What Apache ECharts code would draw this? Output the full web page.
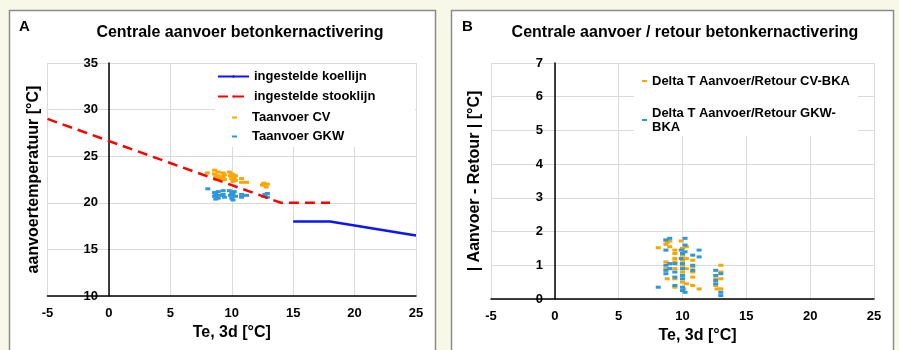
<!DOCTYPE html>
<html>
<head>
<meta charset="utf-8">
<script src="https://cdn.jsdelivr.net/npm/echarts@6/dist/echarts.min.js"></script>
<style>
  html, body { margin: 0; padding: 0; background: #f8f8e8; }
  #chart { width: 899px; height: 350px; }
</style>
</head>
<body>
<div id="chart"></div>
<script>
// ingestelde lijnen (Te, temperatuur)
const stookTe = [-5, 14, 18]
const stookT = [29, 20, 20]
const koelTe = [15, 18, 25]
const koelT = [18, 18, 16.5]

// Taanvoer CV (A)
const cvTe = [8.0, 8.6, 8.6, 8.7, 8.7, 8.9, 8.9, 9.0, 9.3, 9.3, 9.4, 9.4, 9.8, 9.9, 10.0, 10.0, 10.1, 10.1, 10.2, 10.3, 10.3, 10.8, 10.8, 11.2, 12.5, 12.6, 12.8, 12.9]
const cvT = [23.2, 23.5, 23.1, 22.8, 22.5, 23.3, 22.9, 22.6, 23.2, 22.8, 23.0, 22.5, 23.3, 22.9, 23.1, 22.6, 22.3, 23.0, 22.7, 22.4, 22.9, 22.6, 22.2, 22.2, 21.9, 22.1, 21.7, 22.0]

// Taanvoer GKW (A)
const gkwTe = [8.05, 8.6, 8.6, 8.7, 8.7, 8.9, 8.9, 9.0, 9.3, 9.3, 9.4, 9.8, 9.9, 10.0, 10.0, 10.1, 10.1, 10.2, 10.3, 10.8, 10.8, 11.2, 12.6, 12.7, 12.9, 12.9]
const gkwT = [21.5, 21.1, 20.7, 20.4, 20.9, 21.2, 20.5, 20.8, 21.3, 20.9, 20.6, 21.3, 20.8, 21.1, 20.5, 20.9, 20.3, 21.2, 20.7, 20.9, 20.6, 20.8, 20.7, 20.9, 21.0, 20.6]

// Delta T CV-BKA (B)
const dCvTe = [8.1, 8.7, 8.7, 8.7, 8.7, 8.8, 8.8, 9.0, 9.0, 9.4, 9.4, 9.4, 9.4, 9.4, 9.4, 9.4, 9.9, 10.0, 10.0, 10.0, 10.0, 10.0, 10.0, 10.1, 10.3, 10.3, 10.3, 10.3, 10.8, 10.8, 10.8, 10.8, 10.8, 11.3, 12.6, 12.6, 12.7, 13.0, 13.0, 13.0, 13.0]
const dCvT = [1.52, 1.75, 1.62, 1.1, 0.9, 1.68, 0.6, 1.72, 1.55, 1.45, 1.35, 1.2, 1.1, 0.9, 0.6, 0.35, 1.72, 1.5, 1.3, 1.15, 1.0, 0.8, 0.5, 0.3, 1.55, 1.2, 0.9, 0.45, 1.15, 0.95, 0.8, 0.65, 0.4, 0.3, 0.6, 0.4, 0.3, 1.0, 0.8, 0.6, 0.3]

// Delta T GKW-BKA (B)
const dGkwTe = [8.1, 8.7, 8.7, 8.7, 8.7, 8.7, 9.0, 9.0, 9.0, 9.4, 9.4, 9.4, 9.4, 9.9, 9.9, 10.0, 10.0, 10.0, 10.0, 10.0, 10.0, 10.0, 10.2, 10.2, 10.2, 10.2, 10.8, 10.8, 10.8, 11.3, 11.3, 12.6, 12.6, 12.6, 12.6, 13.0, 13.0, 13.0]
const dGkwT = [0.35, 1.75, 1.45, 1.0, 0.85, 0.75, 1.8, 1.05, 0.9, 1.05, 0.8, 0.65, 0.4, 1.45, 1.2, 1.35, 1.05, 0.9, 0.7, 0.6, 0.35, 0.25, 1.8, 1.6, 1.4, 0.2, 1.3, 1.0, 0.85, 1.45, 1.25, 0.85, 0.7, 0.55, 0.45, 0.75, 0.2, 0.1]

const pairs = (xs, ys) => xs.map((x, i) => [x, ys[i]])

const font = 'Liberation Sans, Arial, sans-serif'
const orange = '#f9a603'
const blue = '#2e96db'
const gridColor = '#dadada'

const xAxisBase = {
  type: 'value',
  min: -5,
  max: 25,
  interval: 5,
  name: 'Te, 3d [°C]',
  nameLocation: 'middle',
  nameTextStyle: { fontFamily: font, fontWeight: 'bold', fontSize: 16, color: '#000' },
  axisLine: { onZero: false, lineStyle: { color: '#000', width: 1.5 } },
  axisTick: { show: false },
  axisLabel: { fontFamily: font, fontWeight: 'bold', fontSize: 13, color: '#000', margin: 11 },
  splitLine: { show: true, lineStyle: { color: gridColor, width: 1 } }
}

const yAxisBase = {
  type: 'value',
  nameLocation: 'middle',
  nameTextStyle: { fontFamily: font, fontWeight: 'bold', fontSize: 16, color: '#000' },
  axisLine: { show: true, onZero: true, lineStyle: { color: '#000', width: 1.5 } },
  axisTick: { show: false },
  splitLine: { show: true, lineStyle: { color: gridColor, width: 1 } }
}

const yLabel = { fontFamily: font, fontWeight: 'bold', fontSize: 13, color: '#000' }

const legendText = { fontFamily: font, fontWeight: 'bold', fontSize: 13, color: '#000' }

const chart = echarts.init(document.getElementById('chart'), null, { renderer: 'canvas' })

const option = {
  backgroundColor: '#f8f8e8',
  animation: false,
  graphic: [
    { type: 'rect', z: -10, shape: { x: 9.5, y: 10.5, width: 426, height: 345 }, style: { fill: '#fff', stroke: '#8a8a8a', lineWidth: 1.5 } },
    { type: 'rect', z: -10, shape: { x: 451.5, y: 10.5, width: 442, height: 345 }, style: { fill: '#fff', stroke: '#8a8a8a', lineWidth: 1.5 } },
    { type: 'text', x: 19, y: 19, style: { text: 'A', font: 'bold 15px ' + font, fill: '#000' } },
    { type: 'text', x: 462, y: 19, style: { text: 'B', font: 'bold 15px ' + font, fill: '#000' } },
    { type: 'text', x: 240, y: 33, style: { text: 'Centrale aanvoer betonkernactivering', font: 'bold 16px ' + font, fill: '#000', textAlign: 'center', textVerticalAlign: 'middle' } },
    { type: 'text', x: 685, y: 33, style: { text: 'Centrale aanvoer / retour betonkernactivering', font: 'bold 16px ' + font, fill: '#000', textAlign: 'center', textVerticalAlign: 'middle' } },
    // witte legendavlakken
    { type: 'rect', z: 1, shape: { x: 215, y: 64, width: 200, height: 83 }, style: { fill: '#fff' } },
    { type: 'rect', z: 1, shape: { x: 634, y: 64, width: 224, height: 72 }, style: { fill: '#fff' } }
  ],
  grid: [
    { left: 47.5, top: 63, width: 368.5, height: 233, outerBoundsMode: 'none' },
    { left: 491, top: 63, width: 383, height: 236, outerBoundsMode: 'none' }
  ],
  xAxis: [
    Object.assign({}, xAxisBase, { gridIndex: 0, nameGap: 27 }),
    Object.assign({}, xAxisBase, {
      gridIndex: 1, nameGap: 24,
      nameTextStyle: Object.assign({}, xAxisBase.nameTextStyle, { padding: [0, 0, 0, 30] })
    })
  ],
  yAxis: [
    Object.assign({}, yAxisBase, {
      gridIndex: 0, min: 10, max: 35, interval: 5, name: 'aanvoertemperatuur [°C]', nameGap: 6,
      axisLabel: Object.assign({}, yLabel, { margin: -50.5 })
    }),
    Object.assign({}, yAxisBase, {
      gridIndex: 1, min: 0, max: 7, interval: 1, name: '| Aanvoer - Retour | [°C]', nameGap: 8,
      axisLabel: Object.assign({}, yLabel, { margin: -52 })
    })
  ],
  legend: [
    {
      left: 212, top: 65, orient: 'vertical', itemWidth: 31, itemHeight: 3, itemGap: 7,
      textStyle: legendText,
      data: ['ingestelde koellijn', 'ingestelde stooklijn']
    },
    {
      left: 227, top: 106, orient: 'vertical', itemWidth: 5, itemHeight: 2, itemGap: 6,
      textStyle: Object.assign({}, legendText, { padding: [0, 0, 0, 10] }),
      data: [{ name: 'Taanvoer CV', icon: 'rect' }, { name: 'Taanvoer GKW', icon: 'rect' }]
    },
    {
      left: 637, top: 69, orient: 'vertical', itemWidth: 5, itemHeight: 2, itemGap: 18,
      textStyle: Object.assign({}, legendText, { lineHeight: 14 }),
      formatter: (name) => name === 'Delta T Aanvoer/Retour GKW-BKA' ? 'Delta T Aanvoer/Retour GKW-\nBKA' : name,
      data: [{ name: 'Delta T Aanvoer/Retour CV-BKA', icon: 'rect' }, { name: 'Delta T Aanvoer/Retour GKW-BKA', icon: 'rect' }]
    }
  ],
  series: [
    {
      name: 'ingestelde koellijn', type: 'line', xAxisIndex: 0, yAxisIndex: 0,
      symbol: 'none', data: pairs(koelTe, koelT),
      lineStyle: { color: '#0a14ff', width: 2.5 }, itemStyle: { color: '#0a14ff' }
    },
    {
      name: 'ingestelde stooklijn', type: 'line', xAxisIndex: 0, yAxisIndex: 0,
      symbol: 'none', data: pairs(stookTe, stookT),
      lineStyle: { color: '#ff0000', width: 2.5, type: [10, 6] }, itemStyle: { color: '#ff0000' }
    },
    {
      name: 'Taanvoer CV', type: 'scatter', xAxisIndex: 0, yAxisIndex: 0,
      symbol: 'rect', symbolSize: [5, 3], data: pairs(cvTe, cvT), itemStyle: { color: orange, opacity: 1 }
    },
    {
      name: 'Taanvoer GKW', type: 'scatter', xAxisIndex: 0, yAxisIndex: 0,
      symbol: 'rect', symbolSize: [5, 3], data: pairs(gkwTe, gkwT), itemStyle: { color: blue, opacity: 1 }
    },
    {
      name: 'Delta T Aanvoer/Retour CV-BKA', type: 'scatter', xAxisIndex: 1, yAxisIndex: 1,
      symbol: 'rect', symbolSize: [5, 3], data: pairs(dCvTe, dCvT), itemStyle: { color: orange, opacity: 1 }
    },
    {
      name: 'Delta T Aanvoer/Retour GKW-BKA', type: 'scatter', xAxisIndex: 1, yAxisIndex: 1,
      symbol: 'rect', symbolSize: [5, 3], data: pairs(dGkwTe, dGkwT), itemStyle: { color: blue, opacity: 1 }
    }
  ]
}

chart.setOption(option)
</script>
</body>
</html>
